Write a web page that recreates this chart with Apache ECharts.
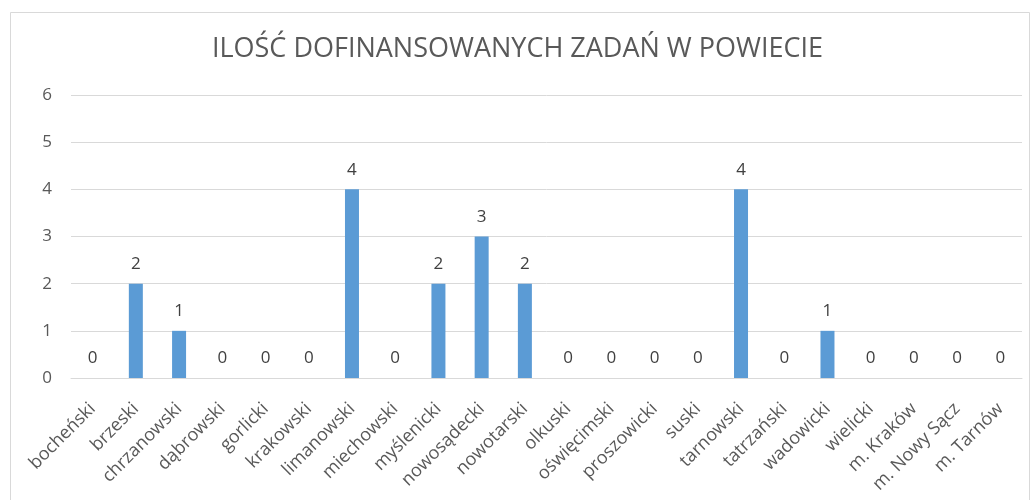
<!DOCTYPE html>
<html>
<head>
<meta charset="utf-8">
<script src="https://cdn.jsdelivr.net/npm/echarts@6/dist/echarts.min.js"></script>
<style>
  html, body { margin: 0; padding: 0; background: #fff; }
  #chart { width: 1035px; height: 500px; }
</style>
</head>
<body>
<div id="chart"></div>
<script>
var chart = echarts.init(document.getElementById('chart'))

var titleText = 'ILOŚĆ DOFINANSOWANYCH ZADAŃ W POWIECIE'
var powiaty = ['bocheński', 'brzeski', 'chrzanowski', 'dąbrowski', 'gorlicki', 'krakowski',
  'limanowski', 'miechowski', 'myślenicki', 'nowosądecki', 'nowotarski', 'olkuski',
  'oświęcimski', 'proszowicki', 'suski', 'tarnowski', 'tatrzański', 'wadowicki',
  'wielicki', 'm. Kraków', 'm. Nowy Sącz', 'm. Tarnów']
var zadania = [0, 2, 1, 0, 0, 0, 4, 0, 2, 3, 2, 0, 0, 0, 0, 4, 0, 1, 0, 0, 0, 0]
var yTicks = [0, 1, 2, 3, 4, 5, 6]

var font = '"Open Sans", "Noto Sans", sans-serif'

var option = {
  backgroundColor: '#fff',
  animation: false,
  title: {
    text: titleText,
    left: 'center',
    top: 31,
    textStyle: {
      fontFamily: font,
      fontSize: 27,
      fontWeight: 'normal',
      color: '#595959'
    }
  },
  graphic: [{
    type: 'rect',
    shape: { x: 10.5, y: 12.5, width: 1019, height: 520 },
    style: { fill: 'none', stroke: '#d9d9d9', lineWidth: 1 },
    silent: true
  }],
  grid: {
    left: 71,
    right: 13,
    top: 95,
    bottom: 122
  },
  xAxis: {
    type: 'category',
    data: powiaty,
    axisTick: { show: false },
    axisLine: { lineStyle: { color: '#d9d9d9', width: 1 } },
    axisLabel: {
      rotate: 45,
      interval: 0,
      margin: 28,
      color: '#595959',
      fontFamily: font,
      fontSize: 18
    }
  },
  yAxis: {
    type: 'value',
    min: yTicks[0],
    max: yTicks[yTicks.length - 1],
    interval: 1,
    axisLine: { show: false },
    axisTick: { show: false },
    splitLine: { lineStyle: { color: '#d9d9d9', width: 1 } },
    axisLabel: {
      margin: 19,
      color: '#595959',
      fontFamily: font,
      fontSize: 17
    }
  },
  series: [{
    type: 'bar',
    data: zadania,
    barWidth: 14,
    itemStyle: { color: '#5b9bd5' },
    label: {
      show: true,
      position: 'top',
      distance: 11,
      color: '#404040',
      fontFamily: font,
      fontSize: 17
    }
  }]
}

chart.setOption(option)
</script>
</body>
</html>
